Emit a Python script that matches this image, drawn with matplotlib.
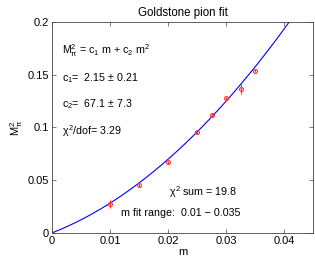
import numpy as np
import matplotlib
matplotlib.use('Agg')
import matplotlib.pyplot as plt

plt.rcParams['font.family'] = ['Liberation Sans', 'DejaVu Sans']
plt.rcParams['mathtext.fontset'] = 'custom'
plt.rcParams['mathtext.rm'] = 'Liberation Sans'
plt.rcParams['mathtext.it'] = 'Liberation Sans'

# data
m_vals = [0.01, 0.015, 0.02, 0.025, 0.0275, 0.03, 0.0325, 0.035]
msq_vals = [0.0275, 0.0455, 0.067, 0.0955, 0.112, 0.1275, 0.1365, 0.1538]
msq_err = [0.004, 0.0015, 0.0015, 0.0015, 0.0015, 0.0015, 0.0045, 0.0015]
c1 = 2.15
c2 = 67.1

fig = plt.figure(figsize=(3.15, 2.62), dpi=100)
ax = fig.add_axes([0.165, 0.111, 0.829, 0.805])

mm = np.linspace(0, 0.045, 200)
ax.plot(mm, c1 * mm + c2 * mm**2, color='#0000ff', lw=0.8)
ax.errorbar(m_vals, msq_vals, yerr=msq_err, fmt='o', ms=2.8, mfc='none',
            mec='#ff3333', ecolor='#ff3333', mew=0.8, elinewidth=0.8, capsize=0)

ax.set_xlim(0, 0.045)
ax.set_ylim(0, 0.2)
ax.set_xticks([0, 0.01, 0.02, 0.03, 0.04])
ax.set_xticklabels(['0', '0.01', '0.02', '0.03', '0.04'])
ax.set_yticks([0, 0.05, 0.1, 0.15, 0.2])
ax.set_yticklabels(['0', '0.05', '0.1', '0.15', '0.2'])
ax.tick_params(direction='in', top=True, right=True, labelsize=8, length=3,
               width=0.5, colors='#444444', labelcolor='black', pad=2)
for s in ax.spines.values():
    s.set_linewidth(0.6)
    s.set_color('#444444')

ax.set_title('Goldstone pion fit', fontsize=8.3, pad=4)
ax.set_xlabel('m', fontsize=8, labelpad=1)
ax.set_ylabel(r'M$_\pi^2$', fontsize=8, labelpad=2)

fs = 7.7
ax.text(0.0018, 0.173, r'M$_\pi^2$ = c$_1$ m + c$_2$ m$^2$', fontsize=fs, va='center')
ax.text(0.0018, 0.147, r'c$_1$=  2.15 $\pm$ 0.21', fontsize=fs, va='center')
ax.text(0.0018, 0.122, r'c$_2$=  67.1 $\pm$ 7.3', fontsize=fs, va='center')
ax.text(0.0018, 0.097, r'$\chi^2$/dof= 3.29', fontsize=fs, va='center')
ax.text(0.0201, 0.039, r'$\chi^2$ sum = 19.8', fontsize=fs, va='center')
ax.text(0.0119, 0.0185, 'm fit range:  0.01 \u2212 0.035', fontsize=fs, va='center')

fig.savefig('out.png', dpi=100)
